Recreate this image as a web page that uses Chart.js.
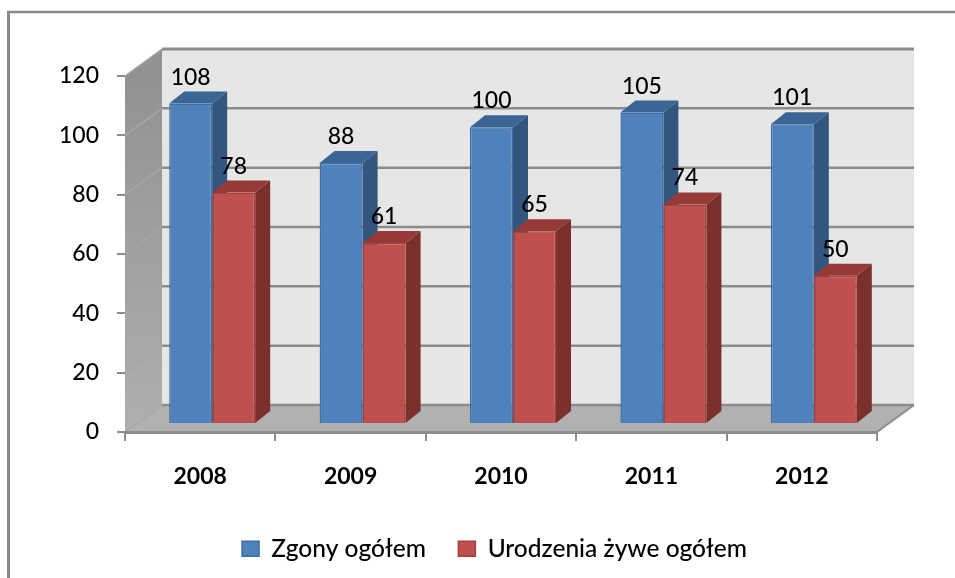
<!DOCTYPE html>
<html>
<head>
<meta charset="utf-8">
<style>
  html, body { margin: 0; padding: 0; background: #fff; }
  #wrap { width: 955px; height: 578px; }
</style>
<script src="https://cdn.jsdelivr.net/npm/chart.js@4"></script>
</head>
<body>
<div id="wrap"><canvas id="chart" width="955" height="578"></canvas></div>
<script>
const years = ['2008', '2009', '2010', '2011', '2012'];
const zgony = [108, 88, 100, 105, 101];
const urodzenia = [78, 61, 65, 74, 50];
const seriesNames = ['Zgony ogółem', 'Urodzenia żywe ogółem'];

const fontName = 'Lato, "Noto Sans", sans-serif';

// fake 3d: how far the walls go back, and where the bars stand on the floor
const wallDx = 37, wallDy = -27;
const barDx = 12, barDy = -8;
const sideDx = 15, sideDy = -12;

const sideColors = ['#33567f', '#7c302e'];
const topColors = ['#3a6595', '#953a37'];

function poly(ctx, pts, fill) {
  ctx.beginPath();
  ctx.moveTo(pts[0][0], pts[0][1]);
  for (let i = 1; i < pts.length; i++) ctx.lineTo(pts[i][0], pts[i][1]);
  ctx.closePath();
  ctx.fillStyle = fill;
  ctx.fill();
}

function line(ctx, x1, y1, x2, y2, color, width) {
  ctx.beginPath();
  ctx.moveTo(x1, y1);
  ctx.lineTo(x2, y2);
  ctx.strokeStyle = color;
  ctx.lineWidth = width;
  ctx.stroke();
}

const walls = {
  id: 'walls',
  afterLayout(chart) {
    // legend sits right of centre in the original
    const lg = chart.legend;
    lg.left += 56;
    lg.right += 56;
    lg.top = 504;
  },
  beforeDraw(chart) {
    const ctx = chart.ctx;
    const a = chart.chartArea;
    const y = chart.scales.y;
    ctx.save();

    // frame of the picture
    line(ctx, 7, 12, chart.width, 12, '#8a8a8a', 2.5);
    line(ctx, 8.5, 11, 8.5, chart.height, '#8a8a8a', 3);

    // back wall
    poly(ctx, [[a.left + wallDx, a.top + wallDy], [a.right + wallDx, a.top + wallDy],
      [a.right + wallDx, a.bottom + wallDy], [a.left + wallDx, a.bottom + wallDy]], '#e6e6e6');

    // left wall
    const grad = ctx.createLinearGradient(0, a.top, 0, a.bottom);
    grad.addColorStop(0, '#929292');
    grad.addColorStop(1, '#afafaf');
    poly(ctx, [[a.left, a.top], [a.left + wallDx, a.top + wallDy],
      [a.left + wallDx, a.bottom + wallDy], [a.left, a.bottom]], grad);

    // floor
    poly(ctx, [[a.left, a.bottom], [a.left + wallDx, a.bottom + wallDy],
      [a.right + wallDx, a.bottom + wallDy], [a.right, a.bottom]], '#b1b1b1');

    // grid lines, side wall then back wall
    y.ticks.forEach(t => {
      const py = y.getPixelForValue(t.value);
      line(ctx, a.left, py, a.left + wallDx, py + wallDy, '#a6a6a6', 1.5);
      line(ctx, a.left + wallDx, py + wallDy, a.right + wallDx, py + wallDy, '#8c8c8c', t.value === 120 ? 3 : 2.5);
    });
    line(ctx, a.right, a.bottom, a.right + wallDx, a.bottom + wallDy, '#8c8c8c', 2);
    ctx.restore();
  },
  beforeDatasetsDraw(chart) {
    // sides and tops first, blue then red, the front faces go over them
    const ctx = chart.ctx;
    ctx.save();
    ctx.translate(barDx, barDy);
    chart.data.datasets.forEach((ds, idx) => {
      chart.getDatasetMeta(idx).data.forEach(b => {
        const l = b.x - b.width / 2, r = b.x + b.width / 2;
        poly(ctx, [[r, b.y], [r + sideDx, b.y + sideDy], [r + sideDx, b.base + sideDy], [r, b.base]], sideColors[idx]);
        poly(ctx, [[l, b.y], [l + sideDx, b.y + sideDy], [r + sideDx, b.y + sideDy], [r, b.y]], topColors[idx]);
      });
    });
    ctx.restore();
  },
  beforeDatasetDraw(chart) {
    chart.ctx.save();
    chart.ctx.translate(barDx, barDy);
  },
  afterDatasetDraw(chart) {
    chart.ctx.restore();
  },
  afterDatasetsDraw(chart) {
    const ctx = chart.ctx;
    ctx.save();
    ctx.font = '500 23px ' + fontName;
    ctx.fillStyle = '#000';
    ctx.textAlign = 'center';
    ctx.textBaseline = 'alphabetic';
    chart.data.datasets.forEach((ds, i) => {
      chart.getDatasetMeta(i).data.forEach((b, j) => {
        ctx.fillText(String(ds.data[j]), b.x + barDx, b.y + barDy - 19);
      });
    });
    ctx.restore();
  }
};

new Chart(document.getElementById('chart'), {
  type: 'bar',
  data: {
    labels: years,
    datasets: [
      { label: seriesNames[0], data: zgony, backgroundColor: '#4f81bd', borderColor: '#3f6ea6', borderWidth: 1.5 },
      { label: seriesNames[1], data: urodzenia, backgroundColor: '#c0504d', borderColor: '#a5403d', borderWidth: 1.5 }
    ]
  },
  options: {
    responsive: false,
    animation: false,
    categoryPercentage: 0.572,
    barPercentage: 1,
    layout: { padding: { left: 0, right: 78, top: 76, bottom: 0 } },
    scales: {
      x: {
        grid: { drawOnChartArea: false, tickLength: 9, color: '#8c8c8c', lineWidth: 2 },
        border: { color: '#8c8c8c', width: 3 },
        ticks: { color: '#000', padding: 22, maxRotation: 0, font: { family: fontName, size: 23, weight: 'bold' } },
        afterFit(s) { s.height = 79; }
      },
      y: {
        min: 0,
        max: 120,
        grid: { drawOnChartArea: false, tickLength: 8, color: '#8c8c8c', lineWidth: 2 },
        border: { display: false },
        ticks: { stepSize: 20, color: '#000', padding: 18, font: { family: fontName, size: 23, weight: '500' } },
        afterFit(s) { s.width = 125; }
      }
    },
    plugins: {
      legend: {
        position: 'bottom',
        labels: { color: '#000', boxWidth: 17, boxHeight: 15, padding: 32.5, font: { family: fontName, size: 24.5, weight: '500' } }
      },
      tooltip: { enabled: false }
    }
  },
  plugins: [walls]
});
</script>
</body>
</html>
